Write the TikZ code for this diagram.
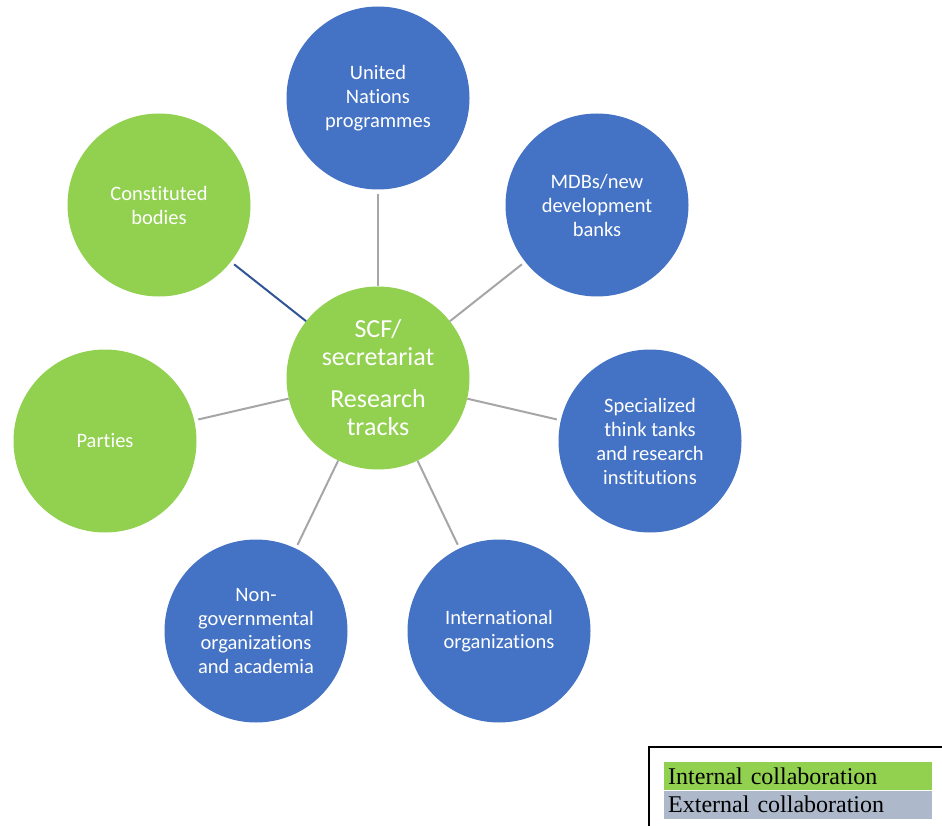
\documentclass[tikz,border=0pt]{standalone}
\usepackage{fontspec}
\usetikzlibrary{positioning}
\setmainfont{Carlito}[RawFeature=-liga]
\newfontfamily\legendfont{Liberation Serif}
\definecolor{trackblue}{HTML}{4472C4}
\definecolor{trackgreen}{HTML}{92D050}
\definecolor{legendgrey}{HTML}{ADB9CA}
\definecolor{linkgrey}{HTML}{A6A6A6}
\definecolor{linkblue}{HTML}{2F5597}

\begin{document}
\begin{tikzpicture}[x=1pt,y=-1pt,
   track/.style={circle,minimum size=183pt,inner sep=0pt,text=white,align=center,
      font=\fontsize{20.5}{24}\selectfont},
   internal/.style={track,fill=trackgreen},
   external/.style={track,fill=trackblue},
   link/.style={draw=linkgrey,line width=2pt,shorten >=4pt},
   legendbar/.style={minimum width=268pt,minimum height=28pt,inner sep=4pt,
      text width=260pt,align=left,font=\legendfont\fontsize{24}{26}\selectfont}]
\clip (0,0) rectangle (942,826);
\node[internal,font=\fontsize{26}{28}\selectfont] (scf) at (378,378)
   {SCF/\\secretariat\\[14pt]Research\\tracks};
\node[external] (un) at (378,98) {United\\Nations\\programmes};
\node[external] (mdb) at (597,205) {MDBs/new\\development\\banks};
\node[external] (think) at (650,441) {Specialized\\think tanks\\and research\\institutions};
\node[external] (intl) at (499,631) {International\\organizations};
\node[external] (ngo) at (256,631) {Non-\\governmental\\organizations\\and academia};
\node[internal] (parties) at (105,441) {Parties};
\node[internal] (bodies) at (159,205) {Constituted\\bodies};
% connectors
\draw[link] (scf) -- (un);
\draw[link] (scf) -- (mdb);
\draw[link] (scf) -- (think);
\draw[link] (scf) -- (intl);
\draw[link] (scf) -- (ngo);
\draw[link] (scf) -- (parties);
\draw[link,draw=linkblue] (scf) -- (bodies);
% legend
\draw[line width=2pt] (649,747) rectangle (960,840);
\node[legendbar,fill=trackgreen,anchor=north west] (inner) at (664,762) {Internal collaboration};
\node[legendbar,fill=legendgrey,below=0pt of inner] (outer) {External collaboration};
\end{tikzpicture}
\end{document}
